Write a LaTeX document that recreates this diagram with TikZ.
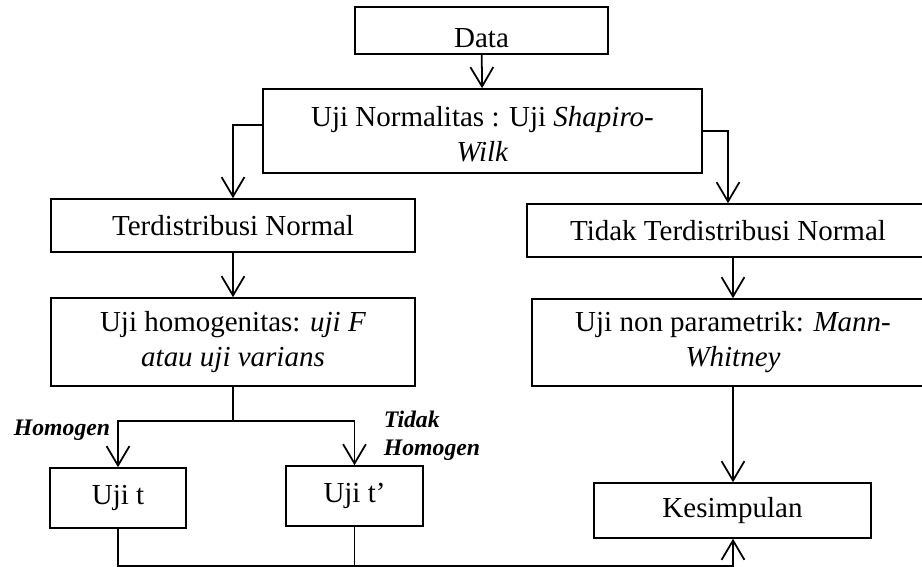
\documentclass[tikz,border=0pt]{standalone}
\usepackage{fontspec}
\setmainfont{Liberation Serif}
\usepackage{tikz}
\usetikzlibrary{shapes,arrows.meta}
\usetikzlibrary{calc}

\begin{document}
\begin{tikzpicture}[x=0.02cm,y=-0.02cm]
\tikzstyle{box}=[draw,rectangle,line width=0.9pt,inner sep=2pt,align=center,font=\fontsize{16.5}{17}\selectfont]
\tikzstyle{every path}=[line width=1pt]
\tikzstyle{flow}=[-{Straight Barb[length=11pt,width=13pt,line width=1pt]}]
\tikzstyle{branchlabel}=[inner sep=0pt,align=left,font=\fontsize{13.5}{16}\selectfont\bfseries\itshape]
\useasboundingbox (0,0) rectangle (922,567);
\node[box, minimum width=5.06cm, minimum height=0.94cm, text height=19pt, text depth=0pt] (data) at (481.5,30.5) {Data};
\node[box, minimum width=8.78cm, minimum height=1.68cm] (normalitas) at (482.5,131) {\rule{0pt}{15pt}Uji Normalitas : Uji \textit{Shapiro-}\\[3pt]\textit{Wilk}};
\node[box, minimum width=7.28cm, minimum height=1.06cm] (normal) at (233,225.5) {Terdistribusi Normal};
\node[box, minimum width=8.04cm, minimum height=1.06cm] (tidaknormal) at (728,230.5) {Tidak Terdistribusi Normal};
\node[box, minimum width=7.28cm, minimum height=1.76cm] (homogenitas) at (233,342) {Uji homogenitas: \textit{uji F}\\[3pt]\textit{atau uji varians}};
\node[box, minimum width=8.04cm, minimum height=1.74cm] (nonpar) at (733,342.5) {Uji non parametrik: \textit{Mann-}\\[3pt]\textit{Whitney}};
\node[box, minimum width=2.72cm, minimum height=1.2cm] (ujit) at (118,498) {Uji t};
\node[box, minimum width=2.74cm, minimum height=1.2cm] (ujitaks) at (354.5,496) {Uji t’};
\node[box, minimum width=5.54cm, minimum height=1.1cm] (kesimpulan) at (732.5,510.5) {Kesimpulan};
\node[branchlabel, anchor=east] (label_homogen) at (111,430) {Homogen};
\node[branchlabel, anchor=west] (label_tidak) at (383,436) {Tidak\\Homogen};
\coordinate (split) at (233,421);
\coordinate (bottom) at (733,566);
\draw[flow] (data) -- (normalitas);
\draw[flow] ($(normalitas.west)+(0,-6)$) -| (normal.north);
\draw[flow] (normalitas.east) -| (tidaknormal.north);
\draw[flow] (normal) -- (homogenitas);
\draw[flow] (nonpar.north |- tidaknormal.south) -- (nonpar.north);
\draw[flow] (nonpar.south) -- (nonpar.south |- kesimpulan.north);
\draw (homogenitas.south) -- (split);
\draw[flow] (split) -| (ujit.north);
\draw[flow] (split) -| (ujitaks.north);
\draw[flow] (ujit.south) |- (bottom) -- (bottom |- kesimpulan.south);
\draw (ujitaks.south) -- (ujitaks.south |- bottom);
\end{tikzpicture}
\end{document}
